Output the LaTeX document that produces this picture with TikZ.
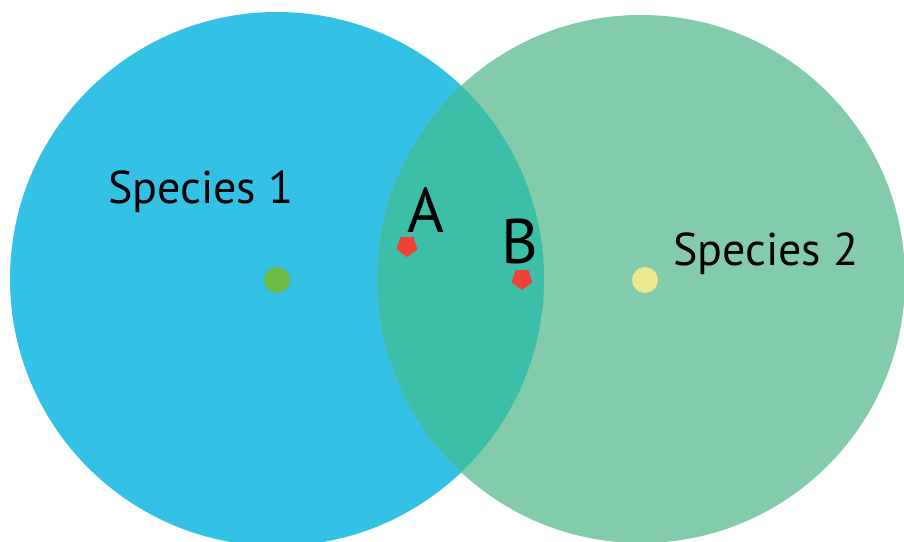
\documentclass[tikz,border=0pt]{standalone}
\usepackage{fontspec}
\setmainfont{PT Sans}
\usetikzlibrary{shapes.geometric}
\definecolor{sp1}{RGB}{51,193,230}
\definecolor{sp2}{RGB}{130,203,171}
\definecolor{ovl}{RGB}{61,190,168}
\definecolor{dotgreen}{RGB}{108,188,70}
\definecolor{dotyellow}{RGB}{236,232,142}
\definecolor{pt}{RGB}{240,66,52}
\tikzset{
  lbl/.style={font=\fontsize{46}{56}\selectfont, text=black, inner sep=0pt},
  ptlbl/.style={font=\fontsize{63}{72}\selectfont, text=black, inner sep=0pt},
  centre/.style={circle, inner sep=0pt, minimum size=26pt},
  pent/.style={regular polygon, regular polygon sides=5, shape border rotate=180, fill=pt, inner sep=0pt, minimum size=22pt},
}
\begin{document}
\begin{tikzpicture}[x=1pt,y=-1pt]
\useasboundingbox (0,0) rectangle (904,541);
\fill[white] (0,0) rectangle (904,541);
\fill[sp1] (277,279) circle (267);
\fill[sp2] (641,279) circle (264);
\begin{scope}
  \clip (277,279) circle (267);
  \fill[ovl] (641,279) circle (264);
\end{scope}
\node[centre, fill=dotgreen] (c1) at (277,280) {};
\node[centre, fill=dotyellow] (c2) at (645,280) {};
\node[pent] (pa) at (407,246) {};
\node[pent] (pb) at (522,279) {};
\node[lbl, anchor=base west] (s1) at (108,203) {Species 1};
\node[lbl, anchor=base west] (s2) at (673,265) {Species 2};
\node[ptlbl, anchor=base] (la) at (426,232) {A};
\node[ptlbl, anchor=base] (lb) at (520,263) {B};
\end{tikzpicture}
\end{document}
